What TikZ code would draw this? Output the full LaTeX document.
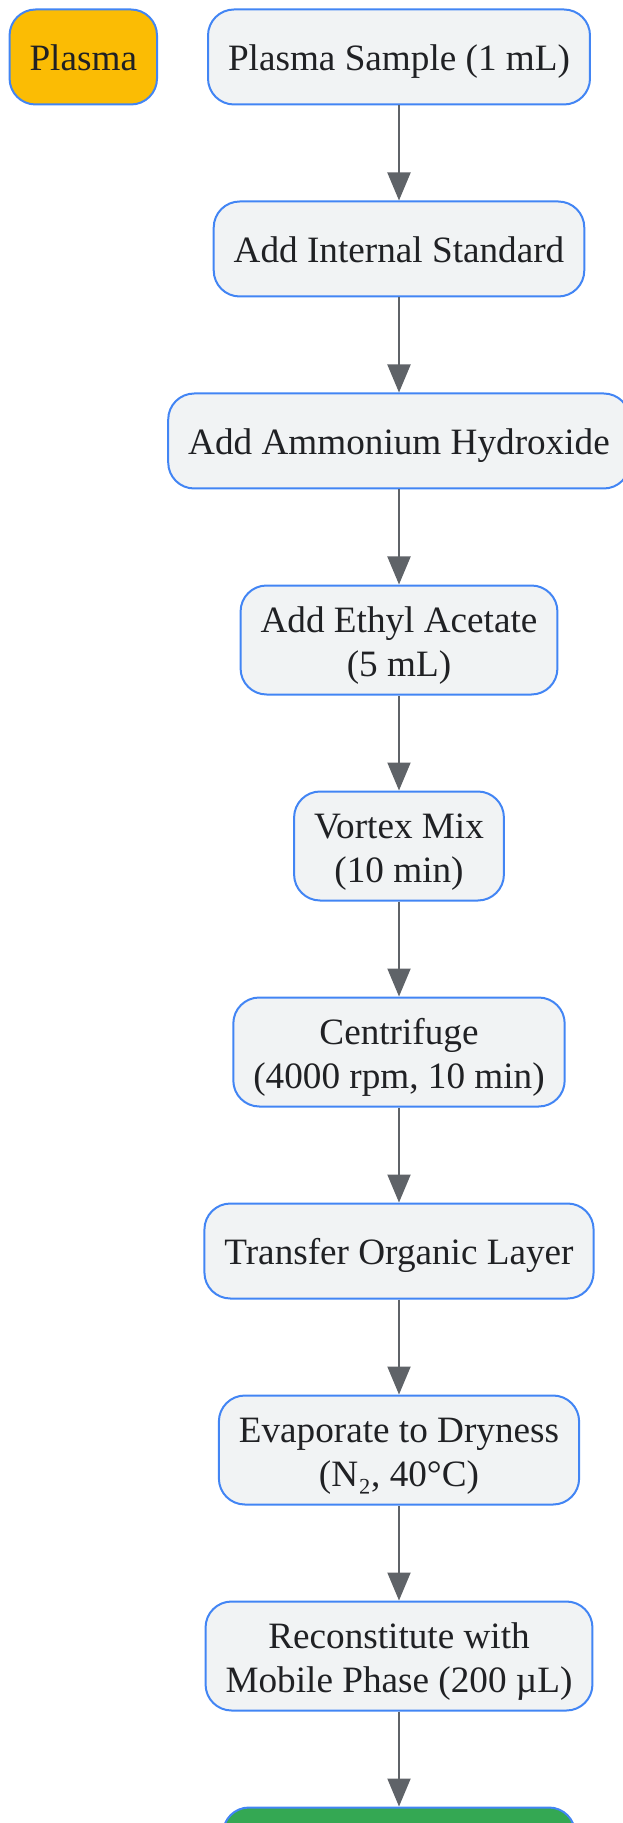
\documentclass[tikz,border=0pt]{standalone}
\usepackage{fontspec}
\setmainfont{Liberation Serif}
\usetikzlibrary{positioning,arrows.meta}
\definecolor{StepBlue}{HTML}{4285F4}
\definecolor{StepFill}{HTML}{F1F3F4}
\definecolor{SampleYellow}{HTML}{FBBC04}
\definecolor{DoneGreen}{HTML}{34A853}
\definecolor{ArrowGray}{HTML}{5F6368}
\definecolor{InkDark}{HTML}{202124}
\tikzset{
    stepnode/.style={rectangle, rounded corners=13pt, draw=StepBlue, fill=StepFill, line width=1pt, text=InkDark, font=\fontsize{18.6pt}{22pt}\selectfont, align=center, inner xsep=10pt, inner ysep=5.5pt, minimum height=47.5pt, text height=17.8pt, text depth=4.5pt},
    twoline/.style={stepnode, text height=40pt, text depth=3.5pt},
    flowarrow/.style={-{Triangle[length=14pt,width=11.5pt]}, draw=ArrowGray, line width=1pt}
}
\begin{document}
\begin{tikzpicture}[
        % 1 unit = 1 pixel of the layout
        x=0.5pt, y=-0.5pt,
        node distance=47.5pt
    ]
        \useasboundingbox (0,0) rectangle (622,1823);

        % --- 1. SAMPLE ---
        \node[stepnode] (sample) at (399,57) {Plasma Sample (1 mL)};
        \node[stepnode, fill=SampleYellow, left=24.5pt of sample] (plasma) {Plasma};

        % --- 2. EXTRACTION STEPS ---
        \node[stepnode, below=of sample] (istd) {Add Internal Standard};
        \node[stepnode, below=of istd] (nhfour) {Add Ammonium Hydroxide};
        \node[twoline, below=of nhfour] (etac) {Add Ethyl Acetate\\(5 mL)};
        \node[twoline, below=of etac] (vortex) {Vortex Mix\\(10 min)};
        \node[twoline, below=of vortex] (centrif) {Centrifuge\\(4000 rpm, 10 min)};
        \node[stepnode, below=of centrif] (transfer) {Transfer Organic Layer};
        \node[twoline, below=of transfer] (evap) {Evaporate to Dryness\\(N₂, 40°C)};
        \node[twoline, below=of evap] (recon) {Reconstitute with\\Mobile Phase (200 µL)};
        \node[stepnode, fill=DoneGreen, minimum width=176pt, below=of recon] (final) {};

        % --- 3. ARROWS ---
        \foreach \a/\b in {sample/istd, istd/nhfour, nhfour/etac, etac/vortex, vortex/centrif, centrif/transfer, transfer/evap, evap/recon, recon/final}
            \draw[flowarrow] (\a) -- (\b);

    \end{tikzpicture}
\end{document}
